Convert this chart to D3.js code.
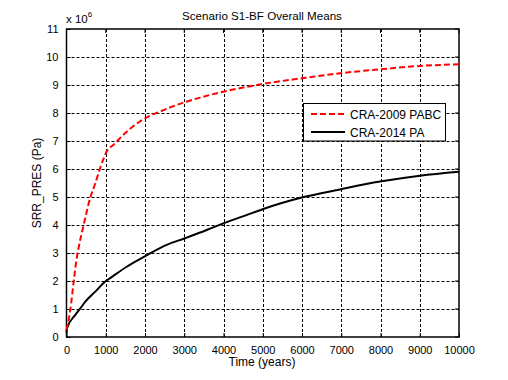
<!DOCTYPE html>
<html><head><meta charset="utf-8">
<script src="https://cdn.jsdelivr.net/npm/d3@7"></script>
<style>
body{margin:0;background:#fff;}
text{font-family:"Liberation Sans",Arial,sans-serif;fill:#000;}
</style></head>
<body>
<svg id="c" width="508" height="380"></svg>
<script>
const title = "Scenario S1-BF Overall Means";
const xLabel = "Time (years)";
const yLabel = "SRR_PRES (Pa)";
const seriesNames = ["CRA-2009 PABC", "CRA-2014 PA"];
const xTicks = [0,1000,2000,3000,4000,5000,6000,7000,8000,9000,10000];
const yTicks = [0,1,2,3,4,5,6,7,8,9,10,11];

const redTime = [0,100,183,267,310,437,606,734,846,948,1032,1193,1533,2000,2382,2976,3401,3995,5014,5992,6968,7987,9006,10000];
const redVal  = [0.25,1.0,1.98,2.87,3.2,4.0,4.98,5.49,5.99,6.38,6.65,6.86,7.33,7.81,8.05,8.37,8.55,8.76,9.04,9.24,9.42,9.56,9.68,9.74];
const blackTime = [0,13,225,352,479,734,989,1141,1533,1982,2552,3002,3572,3995,4760,5014,5992,6968,7987,9006,10000];
const blackVal  = [0.15,0.31,0.79,1.02,1.26,1.62,1.98,2.13,2.51,2.87,3.29,3.52,3.82,4.06,4.44,4.57,4.98,5.27,5.55,5.76,5.90];

const svg = d3.select("#c");
const L=66.5, R=459, T=29, B=337;
const x = d3.scaleLinear().domain([0,10000]).range([L,R]);
const y = d3.scaleLinear().domain([0,11]).range([B,T]);

// grid
const g = svg.append("g");
g.selectAll("line.gx").data(xTicks.slice(1,-1)).enter().append("line")
  .attr("x1",d=>Math.round(x(d))+0.5).attr("x2",d=>Math.round(x(d))+0.5)
  .attr("y1",T).attr("y2",B).attr("stroke","#000").attr("stroke-width",1).attr("stroke-dasharray","3,2");
g.selectAll("line.gy").data(yTicks.slice(1,-1)).enter().append("line")
  .attr("y1",d=>Math.round(y(d))+0.5).attr("y2",d=>Math.round(y(d))+0.5)
  .attr("x1",L).attr("x2",R).attr("stroke","#000").attr("stroke-width",1).attr("stroke-dasharray","3,2");

// axes
const xAxis = d3.axisBottom(x).tickValues(xTicks).tickSizeInner(-4).tickSizeOuter(0).tickPadding(9).tickFormat(d3.format("d"));
const yAxis = d3.axisLeft(y).tickValues(yTicks).tickSizeInner(-4).tickSizeOuter(0).tickPadding(8).tickFormat(d3.format("d"));
const gx = svg.append("g").attr("transform",`translate(0,${B})`).call(xAxis);
const gy = svg.append("g").attr("transform",`translate(${L},0)`).call(yAxis);
[gx,gy].forEach(a=>{a.select(".domain").remove(); a.selectAll("text").attr("font-size","11px").attr("font-family","Liberation Sans, Arial, sans-serif").attr("fill","#000"); a.selectAll("line").attr("stroke","#000");});
// top/right ticks
svg.append("g").selectAll("line").data(xTicks).enter().append("line")
  .attr("x1",d=>x(d)).attr("x2",d=>x(d)).attr("y1",T).attr("y2",T+4).attr("stroke","#000");
svg.append("g").selectAll("line").data(yTicks).enter().append("line")
  .attr("y1",d=>y(d)).attr("y2",d=>y(d)).attr("x1",R).attr("x2",R-4).attr("stroke","#000");
// box
svg.append("rect").attr("x",L).attr("y",T).attr("width",R-L).attr("height",B-T)
  .attr("fill","none").attr("stroke","#000").attr("stroke-width",1.5);

// lines
const line = d3.line().x(d=>x(d[0])).y(d=>y(d[1])).curve(d3.curveMonotoneX);
const redData = redTime.map((t,i)=>[t,redVal[i]]);
const blackData = blackTime.map((t,i)=>[t,blackVal[i]]);
svg.append("path").datum(blackData).attr("d",line).attr("fill","none").attr("stroke","#000").attr("stroke-width",2);
svg.append("path").datum(redData).attr("d",line).attr("fill","none").attr("stroke","#ff0000").attr("stroke-width",2).attr("stroke-dasharray","6,3");

// title & labels
svg.append("text").attr("x",262).attr("y",20).attr("text-anchor","middle").attr("font-size","11.6px").text(title);
svg.append("text").attr("x",262).attr("y",366).attr("text-anchor","middle").attr("font-size","12px").text(xLabel);
svg.append("text").attr("transform","translate(41,183) rotate(-90)").attr("text-anchor","middle").attr("font-size","12px").text(yLabel);
const ex = svg.append("text").attr("x",66).attr("y",23).attr("font-size","11.5px");
ex.append("tspan").text("x 10");
ex.append("tspan").attr("font-size","8px").attr("dy",-6).text("6");

// legend
const lg = svg.append("g");
lg.append("rect").attr("x",303.5).attr("y",103.5).attr("width",142).attr("height",37.5)
  .attr("fill","#fff").attr("stroke","#000").attr("stroke-width",1);
const colors = ["#ff0000","#000"], dashes=["6,3",null];
seriesNames.forEach((n,i)=>{
  const yy = 114 + i*18;
  lg.append("line").attr("x1",311).attr("x2",345).attr("y1",yy).attr("y2",yy)
    .attr("stroke",colors[i]).attr("stroke-width",2).attr("stroke-dasharray",dashes[i]);
  lg.append("text").attr("x",350).attr("y",yy+4.5).attr("font-size","12px").text(n);
});
</script>
</body></html>
